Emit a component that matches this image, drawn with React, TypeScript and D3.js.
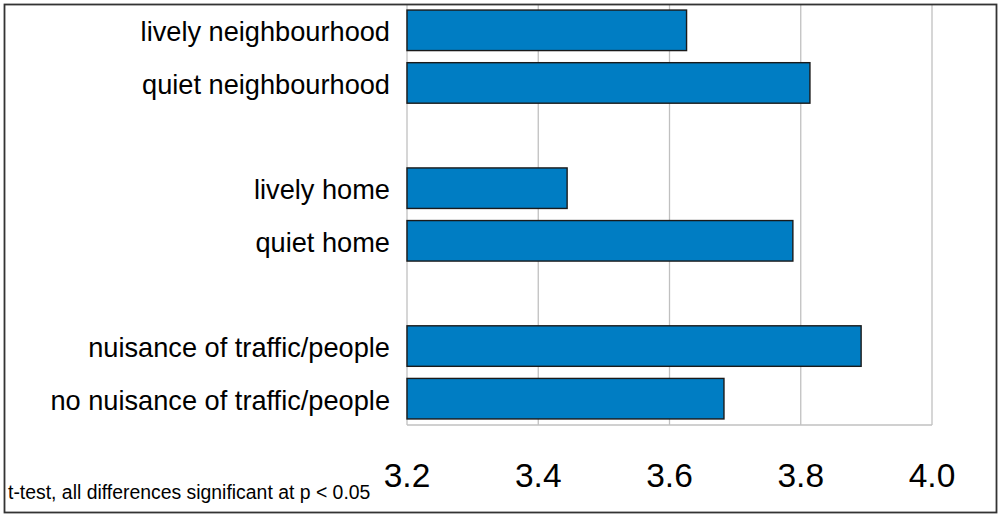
import React from "react";
import * as d3 from "d3";

const categories: string[] = [
  "lively neighbourhood",
  "quiet neighbourhood",
  "",
  "lively home",
  "quiet home",
  "",
  "nuisance of traffic/people",
  "no nuisance of traffic/people",
];
const values: (number | null)[] = [3.626, 3.814, null, 3.444, 3.788, null, 3.892, 3.683];
const ticks: number[] = [3.2, 3.4, 3.6, 3.8, 4.0];
const footnote = "t-test, all differences significant at p < 0.05";

const W = 1000;
const H = 518;
const plot = { left: 407, right: 932, top: 4, bottom: 425 };

export default function App() {
  const x = d3.scaleLinear().domain([3.2, 4.0]).range([plot.left, plot.right]);
  const y = d3
    .scaleBand<number>()
    .domain(categories.map((_, i) => i))
    .range([plot.top, plot.bottom])
    .paddingInner(0.23)
    .paddingOuter(0.115);
  const font = "'Liberation Sans', Arial, sans-serif";
  return (
    <svg
      width={W}
      height={H}
      style={{ position: "absolute", left: 0, top: 0, background: "#fff" }}
      fontFamily={font}
    >
      <rect x={0} y={0} width={W} height={H} fill="#fff" />
      {ticks.map((t) => (
        <line
          key={"g" + t}
          x1={x(t)}
          x2={x(t)}
          y1={plot.top}
          y2={plot.bottom}
          stroke="#c0c0c0"
          strokeWidth={1.3}
        />
      ))}
      <line x1={plot.left} x2={plot.right} y1={plot.bottom} y2={plot.bottom} stroke="#c0c0c0" strokeWidth={1.3} />
      {values.map((v, i) =>
        v == null ? null : (
          <rect
            key={"b" + i}
            x={x(3.2)}
            y={y(i)!}
            width={x(v) - x(3.2)}
            height={y.bandwidth()}
            fill="#007DC3"
            stroke="#1a1a1a"
            strokeWidth={1.4}
          />
        )
      )}
      {categories.map((c, i) =>
        c ? (
          <text
            key={"l" + i}
            x={390}
            y={y(i)! + y.bandwidth() / 2}
            dy="0.4em"
            textAnchor="end"
            fontSize={27.2}
            fill="#000"
          >
            {c}
          </text>
        ) : null
      )}
      {ticks.map((t) => (
        <text key={"t" + t} x={x(t)} y={486.5} textAnchor="middle" fontSize={33.5} fill="#000">
          {t.toFixed(1)}
        </text>
      ))}
      <text x={8} y={499} fontSize={19.4} fill="#000">
        {footnote}
      </text>
      <rect x={4.5} y={4.5} width={992} height={508} fill="none" stroke="#333" strokeWidth={1.8} />
    </svg>
  );
}
